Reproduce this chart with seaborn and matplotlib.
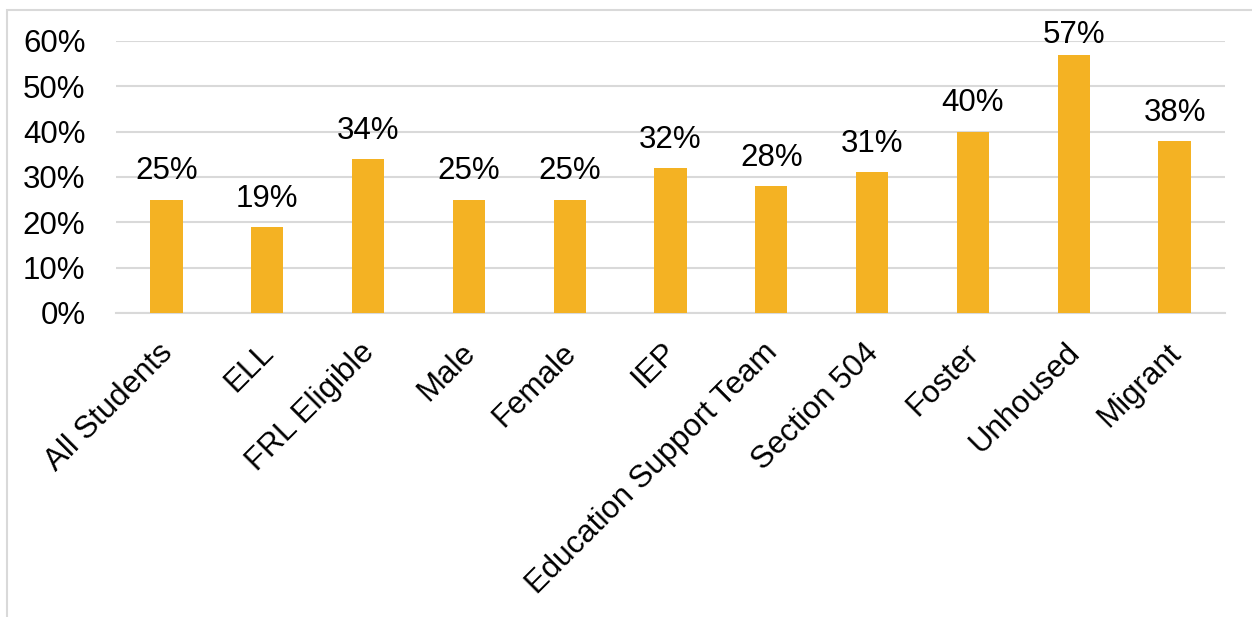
import matplotlib
matplotlib.use("Agg")
import matplotlib.pyplot as plt
import matplotlib.transforms as mtransforms
import seaborn as sns
import pandas as pd
from matplotlib.patches import Rectangle

categories = ["All Students", "ELL", "FRL Eligible", "Male", "Female", "IEP",
              "Education Support Team", "Section 504", "Foster", "Unhoused", "Migrant"]
values = [0.25, 0.19, 0.34, 0.25, 0.25, 0.32, 0.28, 0.31, 0.40, 0.57, 0.38]
yticks = [0.0, 0.1, 0.2, 0.3, 0.4, 0.5, 0.6]
ytick_labels = ["0%", "10%", "20%", "30%", "40%", "50%", "60%"]

sns.set_theme(style="white")
plt.rcParams['font.family'] = ['Liberation Sans', 'DejaVu Sans']
FS = 22.5

df = pd.DataFrame({"cat": categories, "val": values})

fig = plt.figure(figsize=(12.52, 6.17), dpi=100)
ax = fig.add_axes([116/1252, (617-313)/617, (1225-116)/1252, (313-41)/617])
sns.barplot(data=df, x="cat", y="val", color="#F4B223", width=0.32,
            saturation=1, ax=ax, zorder=3, linewidth=0)
ax.set_ylim(0, 0.6)
ax.set_xlim(-0.5, len(categories) - 0.5)
ax.set_yticks(yticks)
ax.set_yticklabels(ytick_labels, fontsize=FS, color="black")
ax.yaxis.grid(True, color="#D9D9D9", linewidth=1.5, zorder=0)
ax.set_axisbelow(True)
for s in ["top", "right", "left"]:
    ax.spines[s].set_visible(False)
ax.spines["bottom"].set_color("#D9D9D9")
ax.spines["bottom"].set_linewidth(1.5)
ax.tick_params(axis="y", length=0, pad=22)
ax.tick_params(axis="x", length=0, pad=8)
ax.set_xlabel("")
ax.set_ylabel("")
ax.set_xticks(range(len(categories)))
ax.set_xticklabels(categories, rotation=45, ha="right", va="center",
                   rotation_mode="anchor", fontsize=FS, color="black")
offset = mtransforms.ScaledTranslation(0.02, -0.24, fig.dpi_scale_trans)
for lbl in ax.get_xticklabels():
    lbl.set_transform(lbl.get_transform() + offset)

for c in ax.containers:
    texts = ax.bar_label(c, labels=[f"{v*100:.0f}%" for v in values], fontsize=FS,
                         padding=9.5, color="black")
    for t, v in zip(texts, values):
        if v > 0.55:
            t.xyann = (0, 3.6)

fig.patches.append(Rectangle((7/1252, -0.1), 1.2, (617-10)/617 + 0.1,
                             transform=fig.transFigure, fill=False,
                             edgecolor="#D9D9D9", linewidth=1.5, zorder=0))
fig.savefig("out.png", dpi=100)
